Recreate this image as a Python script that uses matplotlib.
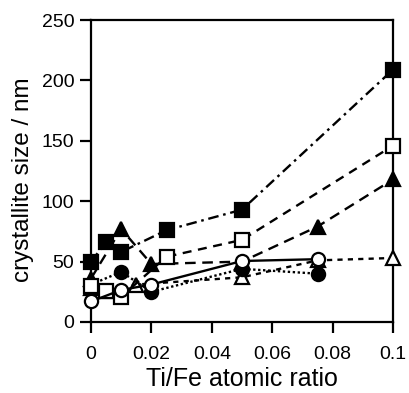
import matplotlib
matplotlib.use("Agg")
import matplotlib.pyplot as plt

plt.rcParams['font.family'] = ['Liberation Sans', 'DejaVu Sans']

# Data (Ti/Fe atomic ratio vs crystallite size / nm)
x_fsq = [0, 0.005, 0.01, 0.025, 0.05, 0.1]
y_fsq = [50, 66, 58, 76, 93, 209]

x_osq = [0, 0.005, 0.01, 0.025, 0.05, 0.1]
y_osq = [30, 26, 21, 54, 68, 146]

x_ftr = [0, 0.01, 0.02, 0.05, 0.075, 0.1]
y_ftr = [36, 77, 48, 50, 79, 118]

x_otr = [0, 0.005, 0.015, 0.05, 0.075, 0.1]
y_otr = [28, 26, 31, 37, 51, 53]

x_fci = [0, 0.01, 0.02, 0.05, 0.075]
y_fci = [31, 41.5, 25, 44, 40]

x_oci = [0, 0.01, 0.02, 0.05, 0.075]
y_oci = [17, 26.5, 31, 50.5, 52]

xticks = [0, 0.02, 0.04, 0.06, 0.08, 0.1]
xticklabels = ['0', '0.02', '0.04', '0.06', '0.08', '0.1']
yticks = [0, 50, 100, 150, 200, 250]

fig = plt.figure(figsize=(4.09, 3.93), dpi=100)
ax = fig.add_axes([0.2225, 0.1807, 0.7385, 0.7683])

lw = 1.7
ms = 9.5
common = dict(color='black', lw=lw, markeredgecolor='black', markeredgewidth=1.6,
              clip_on=False)

ax.plot(x_otr, y_otr, linestyle=(0, (2.2, 2.2)), marker='^', markersize=ms,
        markerfacecolor='white', zorder=3, **common)
ax.plot(x_fci, y_fci, linestyle=(0, (1, 1.1)), marker='o', markersize=ms,
        markerfacecolor='black', zorder=3, **common)
ax.plot(x_ftr, y_ftr, linestyle=(0, (4.5, 2.8)), marker='^', markersize=ms,
        markerfacecolor='black', zorder=4, **common)
ax.plot(x_osq, y_osq, linestyle=(0, (3.8, 2.8)), marker='s', markersize=ms,
        markerfacecolor='white', zorder=4, **common)
ax.plot(x_oci, y_oci, linestyle='-', marker='o', markersize=ms,
        markerfacecolor='white', zorder=5, **common)
ax.plot(x_fsq, y_fsq, linestyle=(0, (4.5, 2, 1.1, 2)), marker='s', markersize=ms,
        markerfacecolor='black', zorder=5, **common)

ax.set_xlim(0, 0.1)
ax.set_ylim(0, 250)
ax.set_xticks(xticks)
ax.set_xticklabels(xticklabels)
ax.set_yticks(yticks)

for s in ax.spines.values():
    s.set_linewidth(1.6)

ax.tick_params(axis='both', direction='out', length=8, width=1.6,
               labelsize=14, top=False, right=False)
ax.tick_params(axis='x', pad=9)
ax.tick_params(axis='y', pad=4)

ax.set_xlabel('Ti/Fe atomic ratio', fontsize=18, labelpad=3)
ax.set_ylabel('crystallite size / nm', fontsize=17.5)
ax.yaxis.set_label_coords(-0.19, 0.47)

fig.savefig('out.png', dpi=100)
